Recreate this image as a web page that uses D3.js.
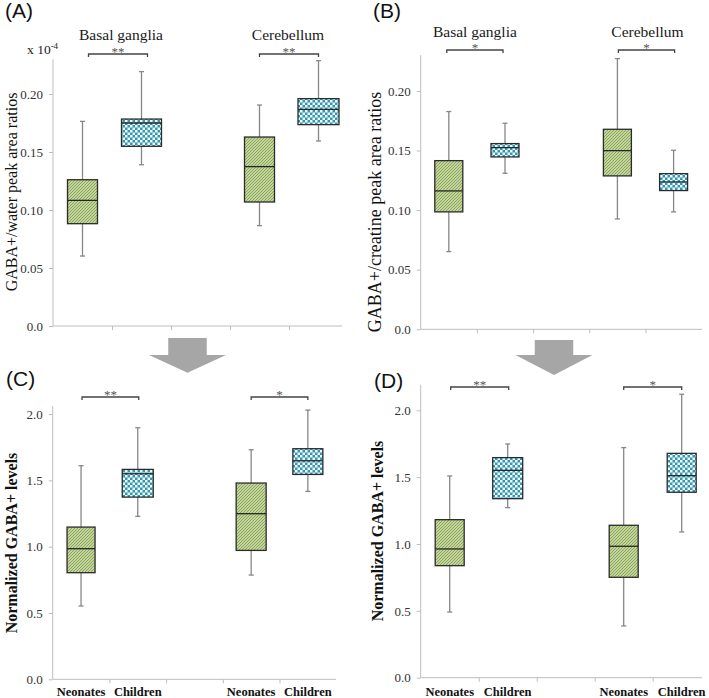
<!DOCTYPE html>
<html><head><meta charset="utf-8">
<script src="https://cdn.jsdelivr.net/npm/d3@7"></script>
<style>body{margin:0;background:#fff}svg{display:block}</style>
</head><body>
<svg id="c" width="709" height="698"></svg>
<script>
// ---------------- data ----------------
const regions = ["Basal ganglia", "Cerebellum"];
const cohorts = ["Neonates", "Children"];
const slotKeys = ["BG-Neonates", "BG-Children", "gap", "CB-Neonates", "CB-Children"];
const boxSlots = [0, 1, 3, 4];
// five-number summaries [min, q1, median, q3, max]: BG neonates, BG children, CB neonates, CB children
const waterRatios    = [[0.0603,0.0882,0.1083,0.1261,0.1764],[0.1390,0.1549,0.1750,0.1784,0.2193],[0.0865,0.1069,0.1374,0.1629,0.1905],[0.1595,0.1736,0.1868,0.1960,0.2287]];
const creatineRatios = [[0.0652,0.0985,0.1161,0.1415,0.1827],[0.1309,0.1446,0.1524,0.1558,0.1729],[0.0926,0.1287,0.1499,0.1678,0.2271],[0.0985,0.1164,0.1236,0.1306,0.1502]];
const normWater      = [[0.553,0.804,0.985,1.148,1.611],[1.229,1.374,1.550,1.583,1.897],[0.786,0.972,1.249,1.480,1.731],[1.417,1.545,1.648,1.739,2.030]];
const normCreatine   = [[0.491,0.838,0.963,1.182,1.509],[1.272,1.339,1.551,1.646,1.748],[0.387,0.751,0.983,1.140,1.721],[1.090,1.387,1.511,1.678,2.120]];
const sigA = ["**", "**"], sigB = ["*", "*"], sigC = ["**", "*"], sigD = ["**", "*"];
const ticksRatio = [0, 0.05, 0.10, 0.15, 0.20];
const tickLabelsRatio = ["0.0", "0.05", "0.10", "0.15", "0.20"];
const ticksNorm = [0, 0.5, 1.0, 1.5, 2.0];
const tickLabelsNorm = ["0.0", "0.5", "1.0", "1.5", "2.0"];

// ---------------- layout ----------------
const SERIF = "'Liberation Serif','Times New Roman',serif";
const SANS = "'Liberation Sans',Arial,sans-serif";
const panels = [
  {id:"A", data:waterRatios, sig:sigA, ticks:ticksRatio, tl:tickLabelsRatio, ymax:0.23, y0:326, ppu:1160,
   x0:53, step:59, axisEnd:342, bw:[30,40,30,41], brY:54, brOff:[6,0], titles:true, titleY:40, titleOff:[9,-1],
   ylab:"GABA+/water peak area ratios", ylabX:17, ylabY:192, ylabSize:16, ylabBold:false,
   lab:"(A)", labX:5, labY:17.5, exp:true},
  {id:"B", data:creatineRatios, sig:sigB, ticks:ticksRatio, tl:tickLabelsRatio, ymax:0.23, y0:329.3, ppu:1192,
   x0:420.7, step:56.2, axisEnd:702, bw:[28,28,28,28], brY:50, brOff:[-2,1], titles:true, titleY:37, titleOff:[-2,2],
   ylab:"GABA+/creatine peak area ratios", ylabX:381, ylabY:212, ylabSize:18, ylabBold:false,
   lab:"(B)", labX:373, labY:17.5},
  {id:"C", data:normWater, sig:sigC, ticks:ticksNorm, tl:tickLabelsNorm, ymax:2.06, y0:679.3, ppu:132.6,
   x0:52.7, step:56.7, axisEnd:336, bw:[28,31,30,30], brY:397, brOff:[1,0], titles:false,
   ylab:"Normalized GABA+ levels", ylabX:17, ylabY:543, ylabSize:16, ylabBold:true,
   lab:"(C)", labX:6, labY:386, xlabels:true},
  {id:"D", data:normCreatine, sig:sigD, ticks:ticksNorm, tl:tickLabelsNorm, ymax:2.19, y0:677.7, ppu:133.7,
   x0:420.7, step:58, axisEnd:702, bw:[29,30,29,29], brY:387, brOff:[1,0], titles:false,
   ylab:"Normalized GABA+ levels", ylabX:383, ylabY:531, ylabSize:16, ylabBold:true,
   lab:"(D)", labX:374, labY:388, xlabels:true}
];

const svg = d3.select("#c");
const defs = svg.append("defs");
// green diagonal hatch
const hp = defs.append("pattern").attr("id","hatch").attr("patternUnits","userSpaceOnUse")
  .attr("width",3).attr("height",3);
hp.append("rect").attr("width",3).attr("height",3).attr("fill","#dbe8b8");
hp.append("path").attr("d","M-1,1 L1,-1 M0,3 L3,0 M2,4 L4,2").attr("stroke","#86a455").attr("stroke-width",1.1);
// teal checkerboard
const cp = defs.append("pattern").attr("id","check").attr("patternUnits","userSpaceOnUse")
  .attr("width",5).attr("height",5);
cp.append("rect").attr("width",5).attr("height",5).attr("fill","#3497b2");
cp.append("rect").attr("width",2.5).attr("height",2.5).attr("fill","#f4fbfc");
cp.append("rect").attr("x",2.5).attr("y",2.5).attr("width",2.5).attr("height",2.5).attr("fill","#f4fbfc");

// arrows (decoration)
function arrow(cx, top, rectW, rectB, triW, tip){
  svg.append("path").attr("fill","#a6a6a6")
    .attr("d",`M${cx-rectW/2},${top}H${cx+rectW/2}V${rectB}H${cx+triW/2}L${cx},${tip}L${cx-triW/2},${rectB}H${cx-rectW/2}Z`);
}
arrow(187.5, 338, 38.5, 355, 77, 372.7);
arrow(554, 340, 38.5, 355, 77, 375);

panels.forEach(p => {
  const g = svg.append("g");
  const y = d3.scaleLinear().domain([0, p.ymax]).range([p.y0, p.y0 - p.ymax * p.ppu]);
  const x = d3.scaleBand().domain(slotKeys).range([p.x0, p.x0 + 5 * p.step]).padding(0);
  const xb = d3.scaleLinear().domain([0, 5]).range([p.x0, p.x0 + 5 * p.step]);
  const cx = i => x(slotKeys[boxSlots[i]]) + x.bandwidth() / 2;

  // y axis
  const ya = g.append("g").attr("transform",`translate(${p.x0},0)`)
    .call(d3.axisLeft(y).tickValues(p.ticks).tickSize(4).tickPadding(6).tickFormat((d,i)=>p.tl[i]));
  ya.select(".domain").attr("stroke","#bdbdbd").attr("d",`M0,${y(p.ymax)}V${y(0)}`);
  ya.selectAll(".tick line").attr("stroke","#bdbdbd");
  ya.selectAll(".tick text").attr("font-family",SERIF).attr("font-size",13).attr("fill","#333");

  // x axis
  const xa = g.append("g").attr("transform",`translate(0,${p.y0})`)
    .call(d3.axisBottom(xb).tickValues([1,2,3,4]).tickSize(4).tickFormat(""));
  xa.select(".domain").attr("stroke","#bdbdbd").attr("d",`M${p.x0},0H${p.axisEnd}`);
  xa.selectAll(".tick line").attr("stroke","#bdbdbd");

  // boxes
  p.data.forEach((d, i) => {
    const c = cx(i), w = p.bw[i];
    const [mn, q1, md, q3, mx] = d;
    const bg = g.append("g");
    bg.append("line").attr("x1",c).attr("x2",c).attr("y1",y(mx)).attr("y2",y(mn))
      .attr("stroke","#878787").attr("stroke-width",1.3);
    [mn, mx].forEach(v => bg.append("line").attr("x1",c-2.5).attr("x2",c+2.5).attr("y1",y(v)).attr("y2",y(v))
      .attr("stroke","#878787").attr("stroke-width",1.3));
    bg.append("rect").attr("x",c-w/2).attr("y",y(q3)).attr("width",w).attr("height",y(q1)-y(q3))
      .attr("fill", i % 2 === 0 ? "url(#hatch)" : "url(#check)")
      .attr("stroke","#2b2b2b").attr("stroke-width",1.3);
    bg.append("line").attr("x1",c-w/2).attr("x2",c+w/2).attr("y1",y(md)).attr("y2",y(md))
      .attr("stroke","#262626").attr("stroke-width",1.3);
  });

  // significance brackets
  [0, 1].forEach(r => {
    const a = cx(r*2) + p.brOff[r], b = cx(r*2+1) + p.brOff[r];
    g.append("path").attr("fill","none").attr("stroke","#444").attr("stroke-width",1.3)
      .attr("d",`M${a},${p.brY+3}V${p.brY}H${b}V${p.brY+3}`);
    g.append("text").attr("x",(a+b)/2).attr("y",p.brY+2).attr("text-anchor","middle")
      .attr("font-family",SERIF).attr("font-size",13).attr("fill","#555").text(p.sig[r]);
    if (p.titles) {
      g.append("text").attr("x",(cx(r*2)+cx(r*2+1))/2 + p.titleOff[r]).attr("y",p.titleY)
        .attr("text-anchor","middle").attr("font-family",SERIF).attr("font-size",15.5).attr("fill","#1a1a1a")
        .text(regions[r]);
    }
  });

  // x labels
  if (p.xlabels) {
    p.data.forEach((d, i) => {
      g.append("text").attr("x",cx(i)).attr("y",696).attr("text-anchor","middle")
        .attr("font-family",SERIF).attr("font-weight","bold").attr("font-size",12.5).attr("fill","#111")
        .text(cohorts[i % 2]);
    });
  }

  // y label
  g.append("text").attr("transform",`translate(${p.ylabX},${p.ylabY}) rotate(-90)`).attr("text-anchor","middle")
    .attr("font-family",SERIF).attr("font-size",p.ylabSize).attr("font-weight",p.ylabBold?"bold":"normal")
    .attr("fill","#111").text(p.ylab);

  // panel letter
  g.append("text").attr("x",p.labX).attr("y",p.labY).attr("font-family",SANS).attr("font-size",21)
    .attr("fill","#111").text(p.lab);

  if (p.exp) {
    const t = g.append("text").attr("x",27).attr("y",54).attr("font-family",SERIF).attr("font-size",13.5).attr("fill","#222");
    t.append("tspan").text("x 10");
    t.append("tspan").attr("font-size",9).attr("dy",-5.5).text("-4");
  }
});
</script>
</body></html>
